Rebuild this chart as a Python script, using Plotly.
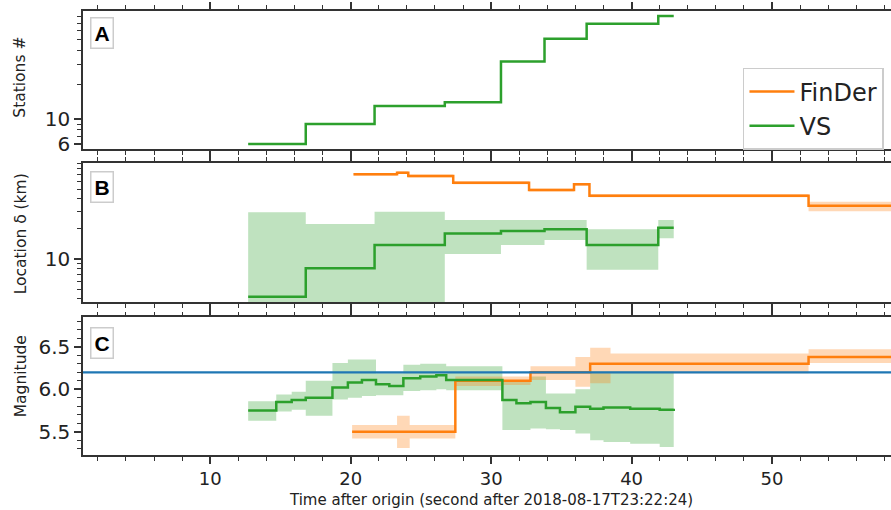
import plotly.graph_objects as go

# ---------------- data ----------------
# Panel A: VS number of stations (step, post)
vs_sta_t = [12.7, 16.8, 21.7, 26.7, 30.7, 33.8, 36.8, 41.9, 43.0]
vs_sta_n = [6, 9, 13, 14, 32, 51, 69, 81, 81]

# Panel B: location error (km)
vs_loc_t = [12.7, 16.8, 21.7, 26.7, 30.7, 33.8, 36.8, 41.9, 43.0]
vs_loc = [4.2, 8.1, 13.8, 18.0, 19.1, 19.8, 13.8, 20.5, 20.5]
vs_loc_hi = [29.3, 22.4, 29.7, 24.5, 24.5, 24.5, 19.8, 24.5, 24.5]
vs_loc_lo = [3.0, 3.0, 3.0, 11.2, 13.8, 15.5, 7.8, 16.1, 16.1]

fd_loc_t = [20.2, 23.3, 24.1, 27.3, 32.7, 35.9, 37.0, 52.6, 60.0]
fd_loc = [70.3, 72.9, 67.6, 57.9, 49.0, 55.8, 43.0, 34.1, 34.1]
fd_loc_hi = [72.5, 75.2, 69.8, 59.8, 50.6, 57.6, 44.6, 37.4, 37.4]
fd_loc_lo = [68.1, 70.6, 65.4, 56.0, 47.4, 54.0, 41.4, 30.0, 30.0]

# Panel C: magnitude
vs_mag_t = [12.7, 14.7, 15.8, 16.8, 18.7, 19.8, 20.8, 21.8, 22.75, 23.75, 24.95, 26.1,
            26.8, 30.8, 31.8, 32.8, 33.9, 34.9, 36.0, 37.05, 38.0, 39.9, 42.0, 43.0]
vs_mag = [5.75, 5.85, 5.875, 5.90, 6.02, 6.08, 6.11, 6.06, 6.04, 6.13, 6.15, 6.165,
          6.11, 5.875, 5.835, 5.85, 5.78, 5.73, 5.795, 5.77, 5.785, 5.77, 5.76, 5.77]
vs_mag_hi = [5.86, 5.94, 5.97, 6.10, 6.31, 6.35, 6.35, 6.19, 6.19, 6.29, 6.30, 6.30,
             6.27, 6.10, 6.10, 6.15, 5.95, 5.95, 6.00, 6.21, 6.21, 6.21, 6.21, 6.21]
vs_mag_lo = [5.63, 5.74, 5.76, 5.69, 5.88, 5.90, 5.92, 5.93, 5.93, 5.98, 5.99, 6.00,
             5.99, 5.52, 5.52, 5.54, 5.53, 5.52, 5.48, 5.40, 5.38, 5.36, 5.32, 5.32]

fd_mag_t = [20.1, 23.3, 24.2, 27.45, 30.8, 32.8, 36.0, 37.05, 38.5, 52.6, 60.0]
fd_mag = [5.5, 5.5, 5.5, 6.1, 6.1, 6.2, 6.2, 6.3, 6.3, 6.38, 6.38]
fd_mag_hi = [5.58, 5.69, 5.58, 6.15, 6.15, 6.27, 6.38, 6.49, 6.42, 6.47, 6.47]
fd_mag_lo = [5.42, 5.31, 5.42, 6.04, 6.05, 6.11, 6.03, 6.07, 6.19, 6.31, 6.31]

catalog_mag = 6.2

# ticks
x_range = [0.94, 58.47]
x_major = [10, 20, 30, 40, 50]
x_minor = [2, 4, 6, 8, 12, 14, 16, 18, 22, 24, 26, 28, 32, 34, 36, 38, 42, 44, 46, 48, 52, 54, 56, 58]
ya_major = [6, 10]
ya_minor = [7, 8, 9, 20, 30, 40, 50, 60, 70, 80, 90]
yb_major = [10]
yb_minor = [4, 5, 6, 7, 8, 9, 20, 30, 40, 50, 60, 70, 80, 90]
yc_major = [5.5, 6.0, 6.5]
yc_minor = [5.3, 5.4, 5.6, 5.7, 5.8, 5.9, 6.1, 6.2, 6.3, 6.4, 6.6, 6.7, 6.8]

# ---------------- style ----------------
ORANGE = "#ff7f0e"
GREEN = "#2ca02c"
BLUE = "#1f77b4"
ORANGE_FILL = "rgba(255,127,14,0.3)"
GREEN_FILL = "rgba(44,160,44,0.3)"
AX = "#333333"
FONT = "DejaVu Sans"

fig = go.Figure()


def band(t, lo, hi, color, xa, ya, group):
    fig.add_trace(go.Scatter(x=t, y=lo, mode="lines", line=dict(width=0, shape="hv"),
                             showlegend=False, hoverinfo="skip", xaxis=xa, yaxis=ya,
                             legendgroup=group))
    fig.add_trace(go.Scatter(x=t, y=hi, mode="lines", line=dict(width=0, shape="hv"),
                             fill="tonexty", fillcolor=color, showlegend=False,
                             hoverinfo="skip", xaxis=xa, yaxis=ya, legendgroup=group))


def step(t, v, color, xa, ya, name=None, show=False, group=None, width=2.5):
    fig.add_trace(go.Scatter(x=t, y=v, mode="lines", line=dict(color=color, width=width, shape="hv"),
                             name=name, showlegend=show, xaxis=xa, yaxis=ya, legendgroup=group))


# Panel B bands
band(vs_loc_t, vs_loc_lo, vs_loc_hi, GREEN_FILL, "x2", "y2", "vs")
band(fd_loc_t, fd_loc_lo, fd_loc_hi, ORANGE_FILL, "x2", "y2", "fd")
# Panel C bands
band(vs_mag_t, vs_mag_lo, vs_mag_hi, GREEN_FILL, "x3", "y3", "vs")
band(fd_mag_t, fd_mag_lo, fd_mag_hi, ORANGE_FILL, "x3", "y3", "fd")

# lines
step(fd_loc_t, fd_loc, ORANGE, "x2", "y2", name="FinDer", show=True, group="fd")
step(vs_sta_t, vs_sta_n, GREEN, "x", "y", name="VS", show=True, group="vs")
step(vs_loc_t, vs_loc, GREEN, "x2", "y2", group="vs")
step(fd_mag_t, fd_mag, ORANGE, "x3", "y3", group="fd")
step(vs_mag_t, vs_mag, GREEN, "x3", "y3", group="vs")
fig.add_trace(go.Scatter(x=x_range, y=[catalog_mag, catalog_mag], mode="lines",
                         line=dict(color=BLUE, width=2.2), showlegend=False,
                         xaxis="x3", yaxis="y3"))


def xaxis(anchor, labels):
    return dict(
        anchor=anchor, domain=[0, 1], range=x_range, tickmode="array", tickvals=x_major,
        ticktext=[str(v) for v in x_major], showticklabels=labels,
        ticks="outside", ticklen=7, tickwidth=1.5, tickcolor=AX,
        showline=True, linecolor=AX, linewidth=1.5, mirror="ticks",
        showgrid=False, zeroline=False,
        tickfont=dict(family=FONT, size=18, color="#222"),
        minor=dict(tickmode="array", tickvals=x_minor, ticks="outside", ticklen=4,
                   tickwidth=1.2, tickcolor=AX, showgrid=False),
    )


def yaxis(anchor, domain, rng, major, minor, typ, fmt):
    return dict(
        anchor=anchor, domain=domain, range=rng, type=typ, tickmode="array",
        tickvals=major, ticktext=[fmt(v) for v in major],
        ticks="outside", ticklen=7, tickwidth=1.5, tickcolor=AX,
        showline=True, linecolor=AX, linewidth=1.5, mirror=False,
        showgrid=False, zeroline=False,
        tickfont=dict(family=FONT, size=20, color="#222"),
        minor=dict(tickmode="array", tickvals=minor, ticks="outside", ticklen=4,
                   tickwidth=1.2, tickcolor=AX, showgrid=False),
    )


fig.update_layout(
    width=891, height=510,
    margin=dict(l=83, r=0, t=11, b=55),
    paper_bgcolor="white", plot_bgcolor="white",
    font=dict(family=FONT, color="#222"),
    xaxis=xaxis("y", False),
    xaxis2=xaxis("y2", False),
    xaxis3=xaxis("y3", True),
    yaxis=yaxis("x", [0.6892, 1.0], [0.7338, 1.952], ya_major, ya_minor, "log", lambda v: str(v)),
    yaxis2=yaxis("x2", [0.3446, 0.6577], [0.57, 1.96], yb_major, yb_minor, "log", lambda v: str(v)),
    yaxis3=yaxis("x3", [0.0, 0.3101], [5.227, 6.847], yc_major, yc_minor, "linear", lambda v: f"{v:.1f}"),
    legend=dict(x=0.8168, y=0.872, xanchor="left", yanchor="top",
                bordercolor="#cccccc", borderwidth=1.5, bgcolor="white",
                font=dict(family=FONT, size=24, color="#222"),
                traceorder="grouped", tracegroupgap=0, itemwidth=45,
                entrywidth=160, entrywidthmode="pixels"),
    showlegend=True,
)

ann = []
for txt, yref, y in [("A", "y domain", 0.955), ("B", "y2 domain", 0.942), ("C", "y3 domain", 0.927)]:
    ann.append(dict(text=txt, xref="paper", x=0.0087, xanchor="left", yref=yref, y=y,
                    yanchor="top", showarrow=False, bgcolor="white", bordercolor="#cccccc",
                    borderwidth=1.5, borderpad=3,
                    font=dict(family="Liberation Sans", size=21, color="black", weight="bold")))
for txt, yref, y in [("Stations #", "y domain", 0.52), ("Location δ (km)", "y2 domain", 0.49),
                     ("Magnitude", "y3 domain", 0.575)]:
    ann.append(dict(text=txt, xref="paper", x=-0.0774, xanchor="center", yref=yref, y=y,
                    yanchor="middle", textangle=-90, showarrow=False,
                    font=dict(family=FONT, size=15.5, color="#222")))
ann.append(dict(text="Time after origin (second after 2018-08-17T23:22:24)", xref="x3", x=30,
                xanchor="center", yref="paper", y=-0.101, yanchor="middle", showarrow=False,
                font=dict(family=FONT, size=15, color="#222")))
fig.update_layout(annotations=ann)

fig.write_html("out.html")
